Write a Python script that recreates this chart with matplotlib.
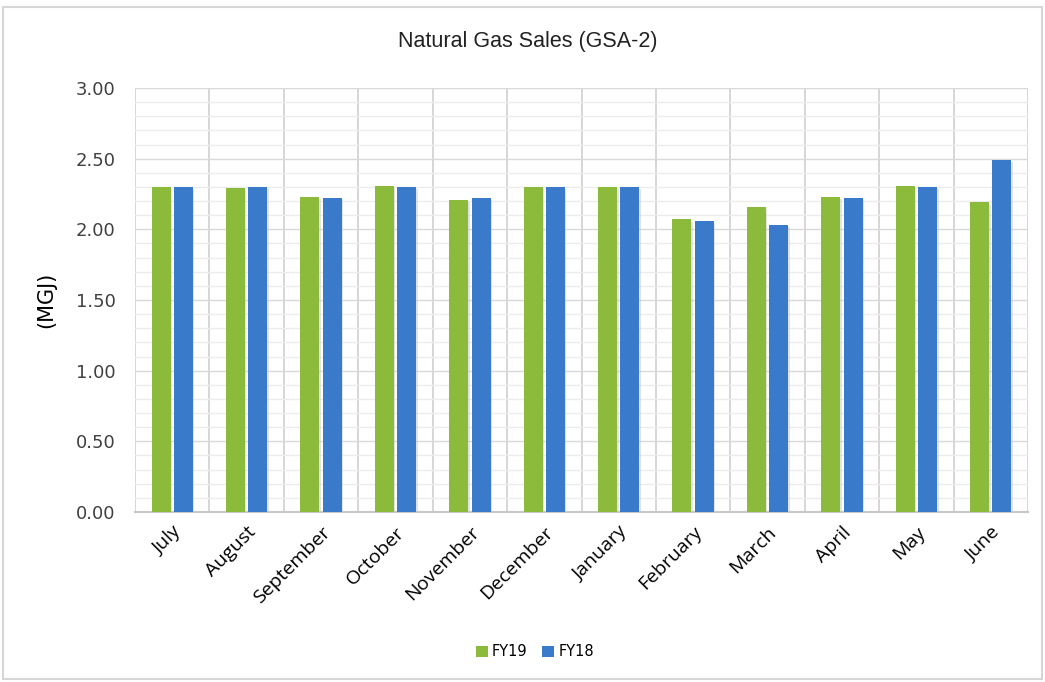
import matplotlib.pyplot as plt
import numpy as np
from matplotlib.patches import Rectangle

months = ['July', 'August', 'September', 'October', 'November', 'December',
          'January', 'February', 'March', 'April', 'May', 'June']
fy19 = [2.30, 2.29, 2.23, 2.31, 2.21, 2.30, 2.30, 2.07, 2.16, 2.23, 2.31, 2.19]
fy18 = [2.30, 2.30, 2.22, 2.30, 2.22, 2.30, 2.30, 2.06, 2.03, 2.22, 2.30, 2.49]

GREEN = '#8cbb3c'
BLUE = '#3a7acb'

fig = plt.figure(figsize=(10.45, 6.82), dpi=100)
ax = fig.add_axes([135 / 1045, 1 - 512 / 682, (1028 - 135) / 1045, (512 - 88) / 682])

x = np.arange(len(months))
w = 0.255
off = 0.15
# leichter Schatten unter den Balken
for xs, vals in ((x - off, fy19), (x + off, fy18)):
    ax.bar(xs + 0.02, np.array(vals), w, bottom=-0.015, color='#c8c8c8', alpha=0.5, zorder=2)
ax.bar(x - off, fy19, w, color=GREEN, label='FY19', zorder=3)
ax.bar(x + off, fy18, w, color=BLUE, label='FY18', zorder=3)

ax.set_xlim(-0.5, len(months) - 0.5)
ax.set_ylim(0, 3.0)
ax.set_yticks(np.arange(0, 3.01, 0.5))
ax.set_yticklabels([f'{v:.2f}' for v in np.arange(0, 3.01, 0.5)])
ax.set_yticks(np.arange(0, 3.01, 0.1), minor=True)
ax.set_xticks(x)
ax.set_xticklabels(months, rotation=45, ha='right', rotation_mode='anchor',
                   fontsize=14, family='Open Sans')
ax.set_xticks(np.arange(-0.5, len(months), 1), minor=True)

ax.grid(which='major', axis='y', color='#d9d9d9', lw=1, zorder=0)
ax.grid(which='minor', axis='y', color='#ececec', lw=1, zorder=0)
ax.grid(which='minor', axis='x', color='#cfcfcf', lw=1.2, zorder=0)
ax.tick_params(which='both', length=0)
ax.tick_params(axis='y', labelsize=13, pad=14, colors='#404040')
ax.tick_params(axis='x', pad=8)
for s in ['top', 'right', 'left']:
    ax.spines[s].set_visible(False)
ax.spines['bottom'].set_color('#c8c8c8')
ax.spines['bottom'].set_linewidth(1.5)

ax.set_ylabel('(MGJ)', fontsize=15, labelpad=14)

fig.text(0.505, 1 - 42 / 682, 'Natural Gas Sales (GSA-2)', ha='center', va='center',
         fontsize=15.5, family='Liberation Sans', color='#222222')

fig.legend(loc='center', bbox_to_anchor=(535 / 1045, 1 - 652 / 682), ncol=2, frameon=False,
           fontsize=10.5, handlelength=0.8, handleheight=0.8, columnspacing=1.0,
           handletextpad=0.3)

fig.patches.append(Rectangle((3 / 1045, 3 / 682), 1 - 6 / 1045, 1 - 10 / 682,
                             transform=fig.transFigure, fill=False,
                             edgecolor='#d6d6d6', lw=1.5))

fig.savefig('out.png', dpi=100)
